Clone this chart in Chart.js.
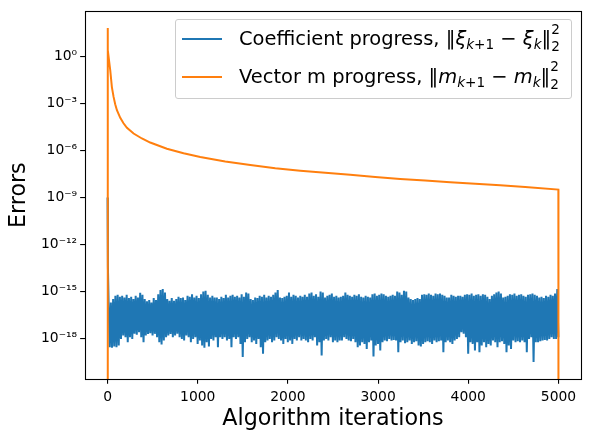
<!DOCTYPE html>
<html>
<head>
    <title>Errors vs algorithm iterations</title>
    <script src="https://cdn.jsdelivr.net/npm/chart.js"></script>
    <style>
        body {
            margin: 0;
            background: white;
            font-family: "DejaVu Sans", sans-serif;
        }
        #wrap {
            position: relative;
            width: 590px;
            height: 438px;
        }
        #legend {
            position: absolute;
            left: 175px;
            top: 19px;
            width: 397px;
            height: 80px;
            box-sizing: border-box;
            border: 1px solid #cccccc;
            border-radius: 3px;
            background: rgba(255, 255, 255, 0.8);
        }
        .row {
            position: absolute;
            left: 0;
            width: 100%;
            height: 22px;
            line-height: 22px;
            font-size: 19.44px;
            white-space: nowrap;
            color: #000;
        }
        .swatch {
            position: absolute;
            left: 6px;
            top: 10px;
            width: 40px;
            height: 2px;
        }
        .label {
            position: absolute;
            left: 63px;
            top: 0;
        }
        .sb { font-size: 0.7em; position: relative; top: 0.3em; }
        .sp { font-size: 0.7em; position: relative; top: -0.85em; }
        .sb2 { font-size: 0.7em; position: relative; top: 0.45em; margin-left: -0.636em; }
    </style>
</head>
<body>
    <div id="wrap">
        <canvas id="errChart"></canvas>
        <div id="legend"></div>
    </div>

    <script>
        // blue series: first iterations, then the noise floor
        const blueHeadIter = [0, 4];
        const blueHeadVal = [1e-9, 4e-14];

        // noise floor, read every 25 iterations: log10 of the peaks and of the troughs
        const blueHiExp = [
            -15.79, -15.69, -15.47, -15.26, -15.20, -15.33, -15.26, -15.37, -15.20, -15.41,
            -15.33, -15.47, -15.26, -15.37, -15.07, -15.20, -15.47, -15.62, -15.54, -15.69,
            -15.41, -15.54, -15.16, -14.90, -14.84, -15.05, -15.47, -15.58, -15.41, -15.58,
            -15.47, -15.33, -15.41, -15.37, -15.54, -15.26, -15.33, -15.16, -15.37, -15.26,
            -15.41, -15.16, -14.99, -14.95, -15.20, -15.37, -15.26, -15.37, -15.37, -15.47,
            -15.33, -15.41, -15.20, -15.37, -15.26, -15.20, -15.33, -15.26, -15.37, -15.16,
            -15.33, -15.05, -15.12, -15.47, -15.54, -15.37, -15.41, -15.26, -15.33, -15.20,
            -15.37, -15.26, -15.33, -15.20, -15.05, -14.90, -15.37, -15.41, -15.33, -15.26,
            -15.05, -15.33, -15.20, -15.26, -15.37, -15.26, -15.33, -15.20, -15.33, -15.12,
            -15.05, -15.26, -15.16, -15.33, -14.99, -15.05, -15.37, -15.26, -15.20, -15.12,
            -15.33, -15.26, -15.37, -15.33, -15.26, -15.05, -15.20, -15.26, -15.33, -15.20,
            -15.26, -15.16, -15.33, -15.37, -15.26, -15.33, -15.37, -15.16, -15.12, -15.26,
            -15.20, -15.12, -15.16, -15.26, -15.33, -15.26, -15.20, -15.26, -14.99, -15.05,
            -15.20, -14.95, -14.99, -15.37, -15.47, -15.54, -15.47, -15.41, -15.47, -15.20,
            -15.16, -15.20, -15.12, -15.20, -15.26, -15.12, -15.16, -15.12, -15.20, -15.26,
            -15.37, -15.37, -15.20, -15.26, -15.33, -15.26, -15.26, -15.33, -15.20, -15.16,
            -15.20, -15.12, -15.26, -15.20, -15.16, -15.26, -15.16, -15.20, -15.33, -15.47,
            -15.26, -15.16, -15.05, -14.99, -15.12, -15.37, -15.33, -15.26, -15.16, -15.20,
            -15.12, -15.26, -15.20, -15.16, -15.26, -15.33, -15.20, -15.16, -15.12, -15.20,
            -15.26, -15.37, -15.33, -15.41, -15.26, -15.33, -15.20, -15.26, -15.12, -14.84
        ];
        const blueLoExp = [
            -18.54, -18.58, -18.50, -18.54, -18.43, -18.01, -17.80, -17.91, -18.22, -17.91,
            -18.01, -17.69, -17.74, -17.59, -17.91, -18.22, -17.80, -17.69, -17.65, -17.80,
            -17.69, -17.91, -18.22, -18.37, -18.12, -17.91, -17.80, -17.69, -17.91, -17.80,
            -17.69, -17.91, -18.01, -18.12, -17.80, -17.91, -18.22, -18.01, -17.91, -18.33,
            -18.12, -18.43, -18.58, -18.22, -18.50, -18.01, -18.12, -17.91, -18.54, -17.91,
            -18.01, -17.91, -18.12, -18.01, -18.54, -17.91, -18.01, -17.91, -18.33, -19.17,
            -18.22, -18.01, -17.91, -18.22, -18.12, -18.33, -18.01, -18.54, -18.96, -18.22,
            -18.12, -18.01, -18.22, -18.12, -17.91, -18.01, -18.12, -18.33, -18.01, -18.22,
            -18.12, -18.33, -18.01, -18.12, -17.91, -18.12, -18.01, -18.12, -18.22, -18.01,
            -18.12, -17.91, -18.43, -18.22, -19.07, -18.12, -18.01, -18.12, -17.91, -18.22,
            -18.12, -18.22, -18.12, -18.12, -17.91, -18.01, -18.12, -18.16, -18.01, -18.22,
            -18.54, -18.43, -18.22, -18.33, -18.65, -18.22, -18.12, -19.13, -18.43, -18.33,
            -18.75, -18.22, -18.12, -18.16, -18.01, -18.12, -18.08, -18.12, -18.86, -18.22,
            -18.12, -18.29, -18.22, -18.12, -18.33, -18.22, -18.16, -18.43, -18.50, -18.33,
            -18.22, -18.16, -18.22, -18.33, -18.12, -18.22, -18.16, -18.12, -18.86, -18.22,
            -18.12, -18.22, -18.33, -18.12, -18.01, -17.91, -17.59, -17.69, -17.91, -18.96,
            -18.22, -18.33, -18.75, -18.22, -18.86, -18.43, -18.22, -18.54, -18.33, -18.43,
            -18.12, -18.22, -18.54, -18.22, -18.16, -18.33, -18.86, -18.43, -18.65, -18.12,
            -18.22, -18.16, -18.22, -18.12, -18.22, -18.86, -18.01, -17.91, -19.49, -18.22,
            -18.22, -18.16, -18.12, -18.08, -18.12, -18.01, -17.91, -18.01, -18.01, -17.91
        ];

        // orange series, 0 means it falls off the bottom of the log axis
        const orangeIter = [0, 1, 4, 30, 48, 67, 85, 104, 141, 177, 215, 289, 381, 473, 658, 843,
                            1028, 1305, 1583, 1860, 2137, 2414, 2691, 2968, 3245, 3522, 3800, 4077,
                            4354, 4631, 4999, 5000];
        const orangeVal = [0, 63, 2.5, 0.13, 0.011, 2.6e-3, 8.9e-4, 3.7e-4, 1.2e-4, 5.4e-5, 2.8e-5, 1.2e-5,
                           5.8e-6, 3.2e-6, 1.3e-6, 6.6e-7, 3.8e-7, 2.0e-7, 1.2e-7, 7.4e-8, 5.1e-8, 3.8e-8,
                           2.8e-8, 2.0e-8, 1.5e-8, 1.2e-8, 9.5e-9, 7.6e-9, 6.0e-9, 4.7e-9, 3.2e-9, 0];

        const xTicks = [0, 1000, 2000, 3000, 4000, 5000];
        const yTicks = [1e0, 1e-3, 1e-6, 1e-9, 1e-12, 1e-15, 1e-18];

        const seriesNames = [
            'Coefficient progress, \u2016<i>\u03be</i><span class="sb"><i>k</i>+1</span> \u2212 <i>\u03be</i><span class="sb"><i>k</i></span>\u2016<span class="sp">2</span><span class="sb2">2</span>',
            'Vector m progress, \u2016<i>m</i><span class="sb"><i>k</i>+1</span> \u2212 <i>m</i><span class="sb"><i>k</i></span>\u2016<span class="sp">2</span><span class="sb2">2</span>'
        ];
        const seriesColors = ['#1f77b4', '#ff7f0e'];

        const SUP = {'-': '\u207b', '0': '\u2070', '1': '\u00b9', '2': '\u00b2', '3': '\u00b3', '4': '\u2074',
                     '5': '\u2075', '6': '\u2076', '7': '\u2077', '8': '\u2078', '9': '\u2079'};

        function powLabel(v) {
            const e = Math.round(Math.log10(v));
            return '10' + String(e).split('').map(c => SUP[c]).join('');
        }

        function buildBlue() {
            const pts = blueHeadIter.map((x, i) => ({x: x, y: blueHeadVal[i]}));
            blueHiExp.forEach((e, i) => {
                pts.push({x: 25 * i + 12, y: Math.pow(10, e)});
                pts.push({x: 25 * i + 24, y: Math.pow(10, blueLoExp[i])});
            });
            return pts;
        }

        // black box round the plot, like matplotlib spines
        const frame = {
            id: 'frame',
            afterDatasetsDraw(chart) {
                const a = chart.chartArea;
                const ctx = chart.ctx;
                ctx.save();
                ctx.strokeStyle = '#000';
                ctx.lineWidth = 1.1;
                ctx.strokeRect(Math.round(a.left) + 0.5, Math.round(a.top) + 0.5,
                    Math.round(a.right - a.left), Math.round(a.bottom - a.top));
                ctx.restore();
            }
        };

        function buildLegend() {
            const box = document.getElementById('legend');
            const tops = [8.3, 45.6];
            seriesNames.forEach((name, i) => {
                const row = document.createElement('div');
                row.className = 'row';
                row.style.top = tops[i] + 'px';
                row.innerHTML = '<div class="swatch" style="background:' + seriesColors[i] + '"></div>' +
                    '<span class="label">' + name + '</span>';
                box.appendChild(row);
            });
        }

        Chart.defaults.font.family = '"DejaVu Sans", sans-serif';
        Chart.defaults.color = '#000';

        const tickFont = {size: 13.89};
        const titleFont = {size: 22.22};
        const axisGrid = {display: true, drawOnChartArea: false, drawTicks: true, tickLength: 4.86, color: '#000', lineWidth: 1.1};

        new Chart(document.getElementById('errChart'), {
            type: 'line',
            data: {
                datasets: [{
                    label: 'Coefficient progress',
                    data: buildBlue(),
                    borderColor: seriesColors[0],
                    borderWidth: 2,
                    pointRadius: 0,
                    fill: false,
                    order: 1
                }, {
                    label: 'Vector m progress',
                    data: orangeIter.map((x, i) => ({x: x, y: orangeVal[i]})),
                    borderColor: seriesColors[1],
                    borderWidth: 2,
                    pointRadius: 0,
                    fill: false,
                    order: 0
                }]
            },
            options: {
                responsive: true,
                maintainAspectRatio: false,
                animation: false,
                events: [],
                parsing: false,
                layout: {padding: {top: 9, right: 9, left: 0, bottom: 0}},
                plugins: {
                    legend: {display: false},
                    tooltip: {enabled: false}
                },
                scales: {
                    x: {
                        type: 'linear',
                        min: -250,
                        max: 5250,
                        afterBuildTicks: axis => { axis.ticks = xTicks.map(v => ({value: v})); },
                        afterFit: axis => { axis.height = 59; },
                        ticks: {autoSkip: false, maxRotation: 0, padding: 5.5, font: tickFont, color: '#000', callback: v => String(v)},
                        grid: axisGrid,
                        border: {display: false},
                        title: {display: true, text: 'Algorithm iterations', font: titleFont, color: '#000', padding: {top: 0, bottom: 5.5}}
                    },
                    y: {
                        type: 'logarithmic',
                        min: 2.7e-21,
                        max: 740,
                        afterBuildTicks: axis => { axis.ticks = yTicks.map(v => ({value: v})); },
                        afterFit: axis => { axis.width = 85; },
                        ticks: {autoSkip: false, padding: 3, font: tickFont, color: '#000', callback: v => powLabel(v)},
                        grid: axisGrid,
                        border: {display: false},
                        title: {display: true, text: 'Errors', font: titleFont, color: '#000', padding: {top: 6, bottom: 0}}
                    }
                }
            },
            plugins: [frame]
        });

        buildLegend();
    </script>
</body>
</html>
